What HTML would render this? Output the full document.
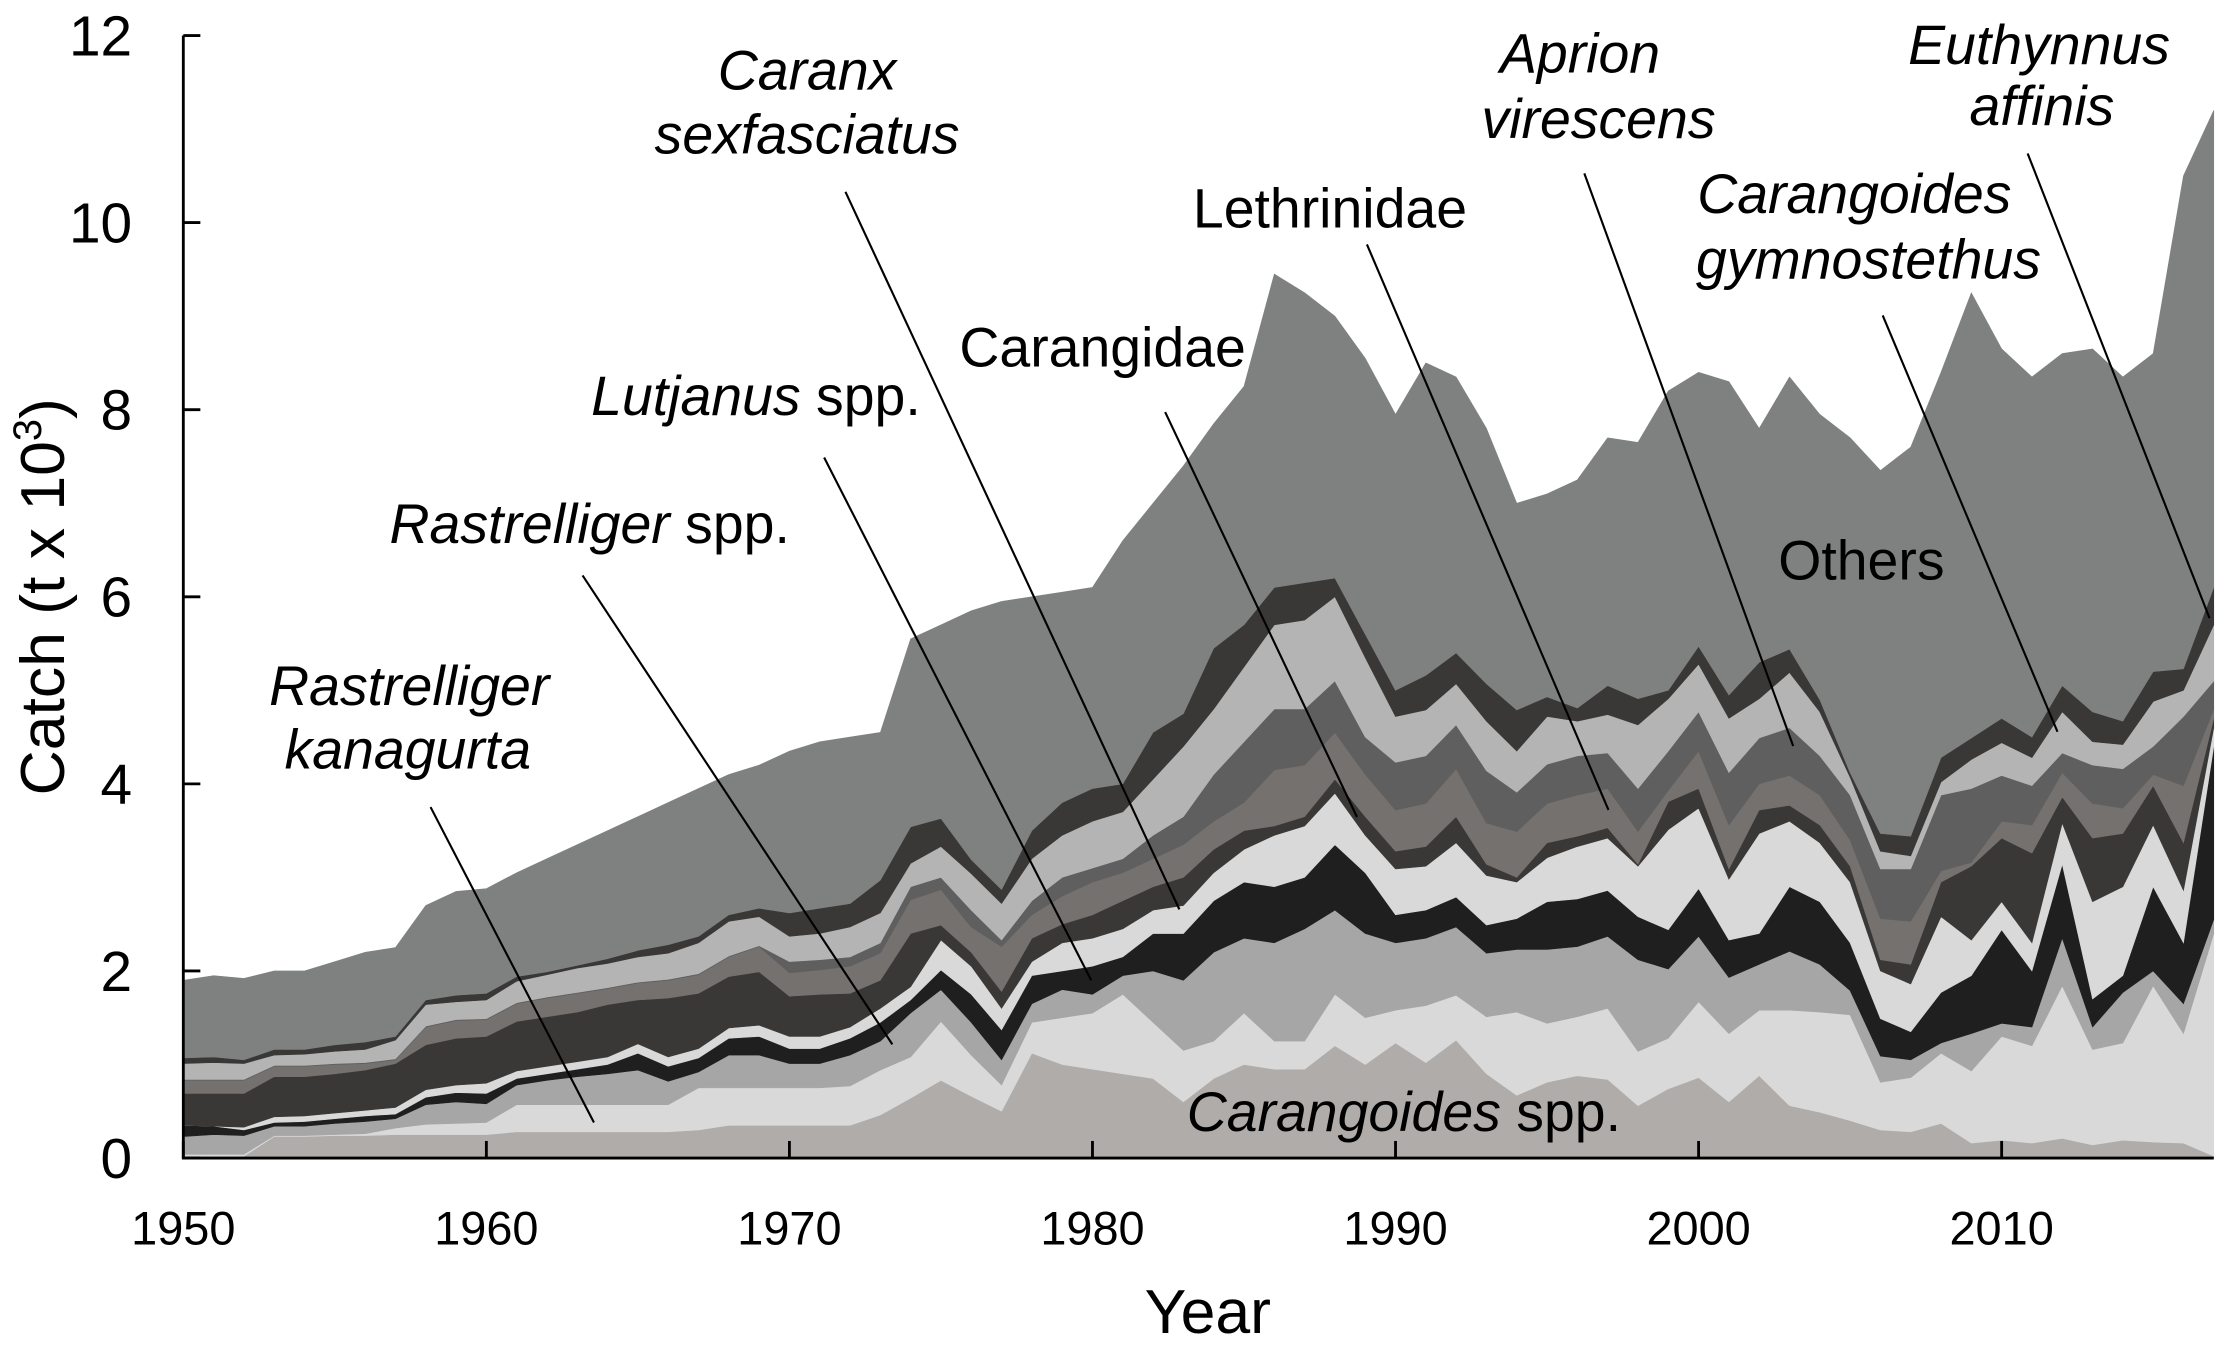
<!DOCTYPE html>
<html><head><meta charset="utf-8"><style>
html,body{margin:0;padding:0;background:#fff;}
svg{display:block;font-family:"Liberation Sans",Arial,sans-serif;}
</style></head><body>
<svg id="chart" width="2228" height="1349" viewBox="0 0 1568 949.4" xmlns="http://www.w3.org/2000/svg">
<g id="areas"></g>
<g id="axes"></g>
<g id="labels"></g>
</svg>
<script>
const years = Array.from({length: 68}, (_, i) => 1950 + i);
const carangoidesSpp = [.02,.02,.02,.23,.23,.24,.24,.25,.25,.25, .25,.28,.28,.28,.28,.28,.28,.30,.35,.35, .35,.35,.35,.46,.64,.83,.66,.50,1.12,1.0, .95,.9,.85,.6,.85,1.0,.95,.95,1.2,1.0, 1.23,1.02,1.26,.9,.67,.81,.88,.84,.56,.74, .86,.6,.88,.56,.49,.4,.3,.28,.37,.16, .19,.16,.21,.14,.19,.17,.16,.02];
const rastrelligerKanagurta = [.02,.02,.02,.01,.01,.01,.02,.07,.11,.12, .13,.29,.29,.29,.29,.29,.29,.45,.40,.40, .40,.40,.42,.48,.44,.63,.44,.28,.33,.5, .6,.85,.6,.55,.4,.55,.3,.3,.55,.5, .35,.61,.48,.61,.89,.63,.63,.76,.58,.54, .81,.73,.7,1.02,1.07,1.13,.51,.58,.75,.77, 1.11,1.04,1.63,1.02,1.04,1.67,1.17,2.38];
const rastrelligerSpp = [.19,.21,.20,.10,.10,.12,.13,.10,.21,.23, .20,.21,.26,.30,.33,.37,.25,.17,.35,.35, .26,.26,.33,.31,.47,.34,.35,.27,.20,.3, .2,.2,.55,.75,.95,.8,1.05,1.2,.9,.9, .72,.72,.73,.68,.67,.79,.75,.77,.98,.74, .7,.6,.49,.63,.51,.26,.28,.19,.11,.4, .14,.2,.51,.24,.54,.16,.32,.15];
const lutjanusSpp = [.12,.09,.06,.04,.05,.05,.06,.05,.08,.10, .11,.07,.07,.08,.10,.18,.16,.15,.18,.20, .16,.16,.18,.20,.14,.21,.30,.32,.30,.2, .3,.2,.4,.5,.55,.6,.6,.55,.7,.65, .3,.3,.32,.3,.33,.51,.51,.49,.46,.42, .51,.4,.33,.69,.67,.51,.4,.3,.54,.62, 1.0,.6,.79,.3,.18,.9,.65,1.85];
const caranxSexfasciatus = [0,0,.03,.06,.06,.06,.06,.07,.08,.08, .11,.08,.08,.08,.08,.10,.10,.10,.11,.12, .13,.13,.12,.15,.14,.32,.30,.23,.15,.3, .3,.3,.25,.3,.3,.35,.55,.55,.55,.4, .49,.47,.58,.53,.39,.47,.56,.56,.54,1.07, .86,.65,1.07,.7,.63,.65,.51,.51,.81,.38, .3,.3,.44,1.04,.95,.66,.56,.2];
const carangidae = [.34,.35,.36,.43,.42,.42,.43,.47,.48,.50, .50,.53,.53,.53,.56,.47,.63,.59,.55,.57, .43,.45,.36,.30,.57,.16,.15,.18,.25,.2, .25,.3,.25,.3,.25,.2,.1,.1,.15,.2, .19,.21,.28,.12,.05,.16,.11,.11,.02,.3, .21,.11,.25,.17,.19,.17,.12,.21,.37,.79, .68,.96,.28,.68,.57,.42,.51,.1];
const lethrinidae = [.14,.14,.14,.11,.11,.10,.07,.04,.19,.19, .18,.19,.20,.20,.17,.18,.19,.20,.21,.27, .25,.26,.29,.29,.36,.38,.27,.48,.25,.3, .35,.3,.3,.35,.3,.3,.6,.55,.5,.45, .44,.46,.51,.44,.49,.42,.44,.42,.35,.12, .4,.47,.28,.32,.32,.28,.44,.46,.12,.04, .18,.3,.26,.37,.27,.12,.61,.1];
const aprionVirescens = [.01,.01,.01,.01,.01,.01,.01,.01,.01,.01, .01,.01,.01,.01,.01,.01,.01,.01,.01,.01, .12,.11,.10,.11,.14,.13,.18,.07,.15,.2, .15,.15,.25,.3,.5,.65,.65,.6,.55,.4, .51,.51,.47,.56,.42,.42,.42,.38,.46,.42, .42,.56,.49,.51,.42,.48,.53,.56,.81,.79, .49,.42,.21,.41,.42,.3,.74,.3];
const carangoidesGymnostethus = [.17,.18,.17,.11,.12,.13,.14,.20,.23,.19, .20,.23,.24,.26,.26,.27,.28,.33,.37,.31, .27,.28,.32,.32,.25,.33,.39,.39,.45,.45, .5,.5,.6,.75,.7,.8,.9,.95,.9,.85, .49,.49,.44,.53,.44,.51,.37,.41,.68,.56, .51,.58,.42,.59,.47,.19,.19,.14,.14,.31, .35,.3,.44,.25,.26,.48,.28,.6];
const euthynnusAffinis = [.06,.06,.04,.06,.05,.07,.08,.04,.05,.07, .07,.05,.03,.03,.05,.07,.09,.07,.07,.09, .25,.27,.25,.35,.39,.30,.15,.15,.30,.35, .35,.3,.5,.35,.65,.45,.4,.4,.2,.25, .28,.37,.33,.4,.44,.21,.14,.31,.28,.09, .19,.25,.39,.25,.13,.05,.19,.21,.26,.23, .26,.22,.28,.32,.25,.32,.23,.4];
const others = [.83,.87,.87,.84,.84,.89,.96,.95,1.01,1.11, 1.12,1.11,1.21,1.29,1.37,1.43,1.52,1.58,1.50,1.53, 1.73,1.78,1.78,1.58,2.01,2.07,2.66,3.08,2.5,2.25, 2.15,2.6,2.45,2.65,2.4,2.55,3.35,3.1,2.8,2.95, 2.95,3.34,2.95,2.73,2.21,2.17,2.44,2.65,2.74,3.2, 2.93,3.35,2.5,2.91,3.05,3.58,3.88,4.16,4.12,4.76, 3.95,3.85,3.55,3.88,3.68,3.4,5.27,5.1];
const yTicks = [0,2,4,6,8,10,12];
const xTicks = [1950,1960,1970,1980,1990,2000,2010];

const NS = 'http://www.w3.org/2000/svg';
const X0 = 129, X1 = 1558, Y0 = 815, Y1 = 25;
const xs = yr => X0 + (yr - 1950) / (2017 - 1950) * (X1 - X0);
const ys = v => Y0 - v / 12 * (Y0 - Y1);
function mk(tag, attrs, parent){const e=document.createElementNS(NS,tag);for(const k in attrs)e.setAttribute(k,attrs[k]);parent.appendChild(e);return e;}

const series = [
 {d: carangoidesSpp, c:'#b0acaa', n:'area-carangoides-spp'},
 {d: rastrelligerKanagurta, c:'#d9d9d9', n:'area-rastrelliger-kanagurta'},
 {d: rastrelligerSpp, c:'#a6a6a6', n:'area-rastrelliger-spp'},
 {d: lutjanusSpp, c:'#1f1f1f', n:'area-lutjanus-spp'},
 {d: caranxSexfasciatus, c:'#d9d9d9', n:'area-caranx-sexfasciatus'},
 {d: carangidae, c:'#3a3836', n:'area-carangidae'},
 {d: lethrinidae, c:'#75716f', n:'area-lethrinidae'},
 {d: aprionVirescens, c:'#5f5f5f', n:'area-aprion-virescens'},
 {d: carangoidesGymnostethus, c:'#b4b4b4', n:'area-carangoides-gymnostethus'},
 {d: euthynnusAffinis, c:'#3a3836', n:'area-euthynnus-affinis'},
 {d: others, c:'#7f8180', n:'area-others'}
];
const areas = document.getElementById('areas');
let base = years.map(() => 0);
series.forEach(s => {
  const top = base.map((b, i) => b + s.d[i]);
  let p = 'M' + years.map((y, i) => xs(y).toFixed(2) + ',' + ys(top[i]).toFixed(2)).join('L');
  for (let i = years.length - 1; i >= 0; i--) p += 'L' + xs(years[i]).toFixed(2) + ',' + ys(base[i]).toFixed(2);
  p += 'Z';
  const el = mk('path', {d: p, fill: s.c, stroke: s.c, 'stroke-width': 0.4}, areas);
  
  
  base = top;
});

const axes = document.getElementById('axes');
const ya = mk('line', {x1: X0, y1: Y1, x2: X0, y2: Y0, stroke: '#000', 'stroke-width': 2}, axes);


const xa = mk('line', {x1: X0 - 1, y1: Y0, x2: X1, y2: Y0, stroke: '#000', 'stroke-width': 2}, axes);


yTicks.forEach(t => {
  const tk = mk('line', {x1: X0, y1: ys(t), x2: X0 + 12, y2: ys(t), stroke: '#000', 'stroke-width': 2}, axes);
  
  
  const tx = mk('text', {x: 93, y: ys(t) + 14, 'text-anchor': 'end', 'font-size': 40}, axes);
  tx.textContent = t;
  
  
});
xTicks.forEach(t => {
  const tk = mk('line', {x1: xs(t), y1: Y0, x2: xs(t), y2: Y0 - 12, stroke: '#000', 'stroke-width': 2}, axes);
  
  
  const tx = mk('text', {x: xs(t), y: 876, 'text-anchor': 'middle', 'font-size': 33}, axes);
  tx.textContent = t;
  
  
});
</script>
<script>
(function(){
const NS='http://www.w3.org/2000/svg';
const g=document.getElementById('labels');
const leaders=[
 ['leader-rastrelliger-kanagurta',303,568,418,790],
 ['leader-rastrelliger-spp',410,405,628,735],
 ['leader-lutjanus-spp',580,322,768,690],
 ['leader-caranx-sexfasciatus',595,135,830,640],
 ['leader-carangidae',820,290,955,575],
 ['leader-lethrinidae',962,172,1132,570],
 ['leader-aprion-virescens',1115,122,1262,525],
 ['leader-carangoides-gymnostethus',1325,222,1448,515],
 ['leader-euthynnus-affinis',1427,108,1555,435]
];
leaders.forEach(l=>{const e=document.createElementNS(NS,'line');e.setAttribute('x1',l[1]);e.setAttribute('y1',l[2]);e.setAttribute('x2',l[3]);e.setAttribute('y2',l[4]);e.setAttribute('stroke','#000');e.setAttribute('stroke-width','1.5');


g.appendChild(e);});
})();
</script>
<svg style="position:absolute;left:0;top:0" width="2228" height="1349" viewBox="0 0 1568 949.4" xmlns="http://www.w3.org/2000/svg" font-family="Liberation Sans, Arial, sans-serif" font-size="39">
<text x="288" y="496" text-anchor="middle" font-style="italic">Rastrelliger</text>
<text x="287" y="541" text-anchor="middle" font-style="italic">kanagurta</text>
<text x="415" y="382" text-anchor="middle"><tspan font-style="italic">Rastrelliger</tspan> spp.</text>
<text x="532" y="292" text-anchor="middle"><tspan font-style="italic">Lutjanus</tspan> spp.</text>
<text x="568" y="63" text-anchor="middle" font-style="italic">Caranx</text>
<text x="568" y="108" text-anchor="middle" font-style="italic">sexfasciatus</text>
<text x="776" y="258" text-anchor="middle">Carangidae</text>
<text x="936" y="160" text-anchor="middle">Lethrinidae</text>
<text x="1112" y="51" text-anchor="middle" font-style="italic">Aprion</text>
<text x="1125" y="97" text-anchor="middle" font-style="italic">virescens</text>
<text x="1305" y="150" text-anchor="middle" font-style="italic">Carangoides</text>
<text x="1315" y="196" text-anchor="middle" font-style="italic">gymnostethus</text>
<text x="1435" y="45" text-anchor="middle" font-style="italic">Euthynnus</text>
<text x="1437" y="88" text-anchor="middle" font-style="italic">affinis</text>
<text x="1310" y="408" text-anchor="middle">Others</text>
<text x="988" y="796" text-anchor="middle"><tspan font-style="italic">Carangoides</tspan> spp.</text>
<text x="850" y="938" text-anchor="middle" font-size="44">Year</text>
<text transform="translate(45,420) rotate(-90)" text-anchor="middle" font-size="44">Catch (t x 10<tspan font-size="28" dy="-16">3</tspan><tspan dy="16">)</tspan></text>
</svg>
</body></html>
